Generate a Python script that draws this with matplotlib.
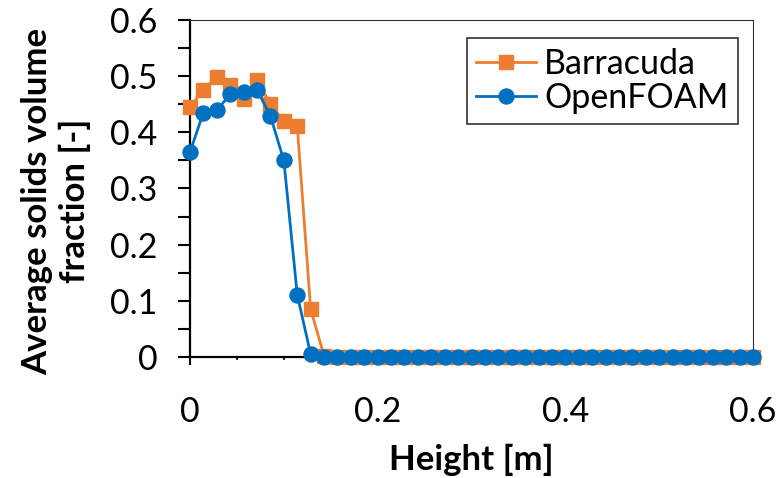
import numpy as np
import matplotlib
matplotlib.use("Agg")
import matplotlib.pyplot as plt
from matplotlib.ticker import MultipleLocator

# Data
height = np.linspace(0, 0.6, 43)
barracuda = [0.445, 0.476, 0.499, 0.484, 0.460, 0.493, 0.450, 0.420, 0.412, 0.085,
             0.002] + [0.0] * 32
openfoam = [0.365, 0.435, 0.439, 0.468, 0.472, 0.476, 0.429, 0.350, 0.111, 0.005] + [0.0] * 33
series_names = ["Barracuda", "OpenFOAM"]

ORANGE = "#ED7D31"
BLUE = "#0070C0"

W, H = 779, 478
fig = plt.figure(figsize=(W / 100, H / 100), dpi=100)
plt.rcParams['font.family'] = ['Lato', 'DejaVu Sans']

L, R, T, B = 190, 753, 20, 357
ax = fig.add_axes([L / W, 1 - B / H, (R - L) / W, (B - T) / H])

ax.plot(height, barracuda, color=ORANGE, lw=2.0, marker='s', ms=10.5,
        label=series_names[0], clip_on=False, zorder=3)
ax.plot(height, openfoam, color=BLUE, lw=2.0, marker='o', ms=10.8,
        label=series_names[1], clip_on=False, zorder=4)

ax.set_xlim(0, 0.6)
ax.set_ylim(0, 0.6)
ax.xaxis.set_major_locator(MultipleLocator(0.2))
ax.xaxis.set_minor_locator(MultipleLocator(0.05))
ax.yaxis.set_major_locator(MultipleLocator(0.1))
ax.yaxis.set_minor_locator(MultipleLocator(0.05))

def fmt(v, p):
    if abs(v) < 1e-9:
        return "0"
    return f"{v:.1f}"
ax.xaxis.set_major_formatter(plt.FuncFormatter(fmt))
ax.yaxis.set_major_formatter(plt.FuncFormatter(fmt))

for side in ['left', 'bottom']:
    ax.spines[side].set_linewidth(1.6)
    ax.spines[side].set_color('black')
for side in ['top', 'right']:
    ax.spines[side].set_linewidth(0.8)
    ax.spines[side].set_color('#303030')

ax.tick_params(axis='y', which='both', direction='out', length=8.5, width=1.5,
               labelsize=24.5, pad=15, right=False)
ax.tick_params(axis='x', which='major', direction='out', length=6, width=1.5,
               labelsize=24.5, pad=22, top=False)
ax.tick_params(axis='x', which='minor', direction='out', length=2.5, width=1.2, top=False)

fig.text(56 / W, 1 - 201 / H, "Average solids volume\nfraction [-]", rotation=90,
         ha='center', va='center', fontsize=25, fontweight='bold',
         multialignment='center', linespacing=1.23)
fig.text(471.5 / W, 1 - 470 / H, "Height [m]", ha='center', va='baseline',
         fontsize=25, fontweight='bold')

leg = ax.legend(loc='upper right', bbox_to_anchor=((738 - L) / (R - L), (B - 38) / (B - T)),
                fontsize=24.5, frameon=True, fancybox=False, edgecolor='black',
                borderpad=0.28, handlelength=1.75, handletextpad=0.25, labelspacing=0.08,
                borderaxespad=0)
leg.get_frame().set_linewidth(1.2)

fig.savefig("out.png", dpi=100)
